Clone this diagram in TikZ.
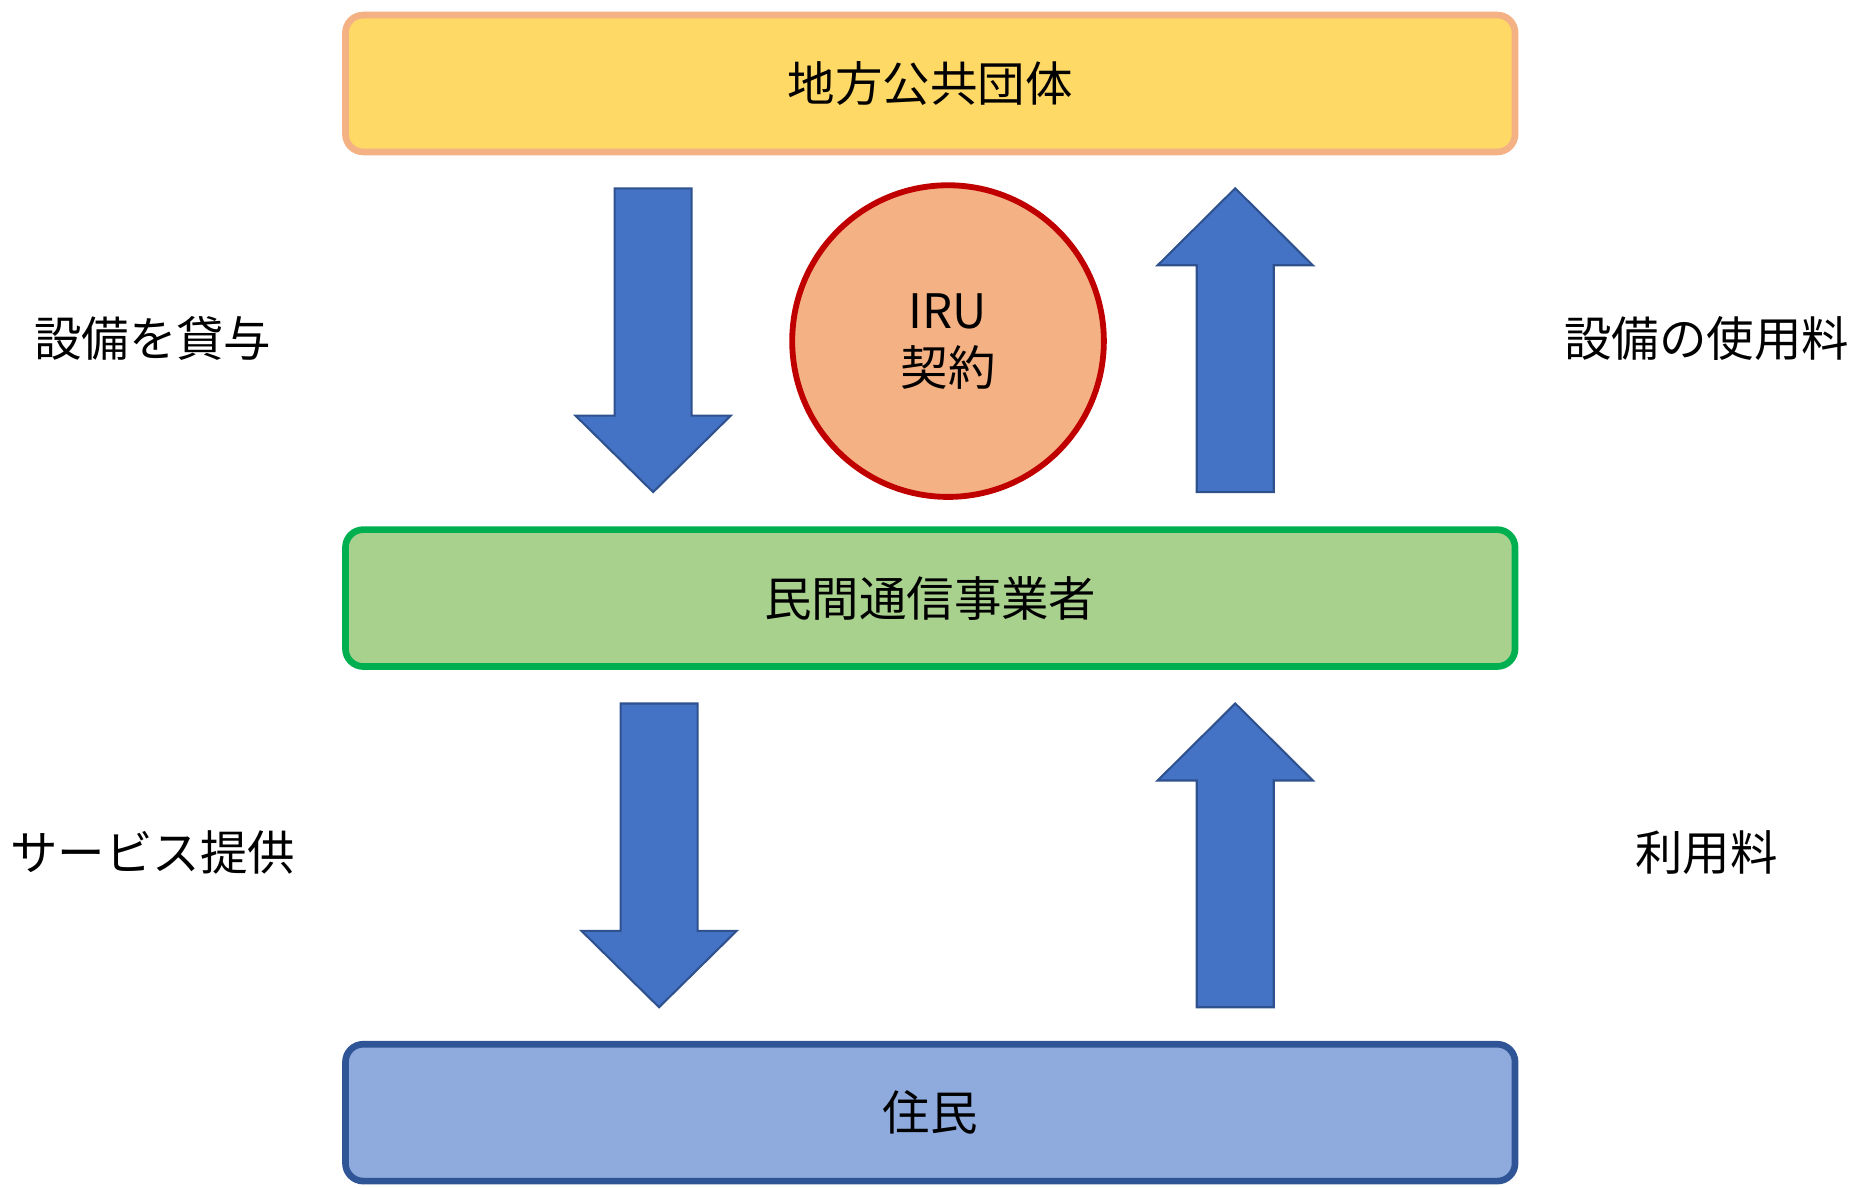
\documentclass[tikz,border=0pt]{standalone}
\usepackage{fontspec}
\setmainfont{Noto Sans CJK JP}
\usetikzlibrary{calc}
\definecolor{govfill}{HTML}{FFD966}
\definecolor{govline}{HTML}{F4B183}
\definecolor{irufill}{HTML}{F4B183}
\definecolor{iruline}{HTML}{C00000}
\definecolor{telfill}{HTML}{A9D18E}
\definecolor{telline}{HTML}{00B050}
\definecolor{resfill}{HTML}{8FAADC}
\definecolor{resline}{HTML}{2F5597}
\definecolor{arrfill}{HTML}{4472C4}
\definecolor{arrline}{HTML}{2F528F}
\def\downblock(#1,#2,#3,#4){\draw[flowarrow] ({#1-32.5},#2) -- ({#1+32.5},#2) -- ({#1+32.5},#3) -- ({#1+65.5},#3) -- (#1,#4) -- ({#1-65.5},#3) -- ({#1-32.5},#3) -- cycle;}
\def\upblock(#1,#2,#3,#4){\draw[flowarrow] (#1,#2) -- ({#1+65.5},#3) -- ({#1+32.5},#3) -- ({#1+32.5},#4) -- ({#1-32.5},#4) -- ({#1-32.5},#3) -- ({#1-65.5},#3) -- cycle;}

\begin{document}
\begin{tikzpicture}[x=0.01cm, y=-0.01cm,
    every node/.style={font=\fontsize{11.4}{13.7}\selectfont},
    bigbox/.style={rounded corners=0.15cm, line width=1.6pt, minimum width=9.87cm, minimum height=1.155cm},
    flowarrow/.style={fill=arrfill, draw=arrline, line width=0.5pt, line join=miter}]
    %%%%% START %%%%%
    \useasboundingbox (0,0) rectangle (1568,1003);

    \node[bigbox, fill=govfill, draw=govline] (gov) at (785.5,70.5) {地方公共団体};
    \node[bigbox, fill=telfill, draw=telline] (tel) at (785.5,505) {民間通信事業者};
    \node[bigbox, fill=resfill, draw=resline] (res) at (785.5,939.5) {住民};

    \node[circle, fill=irufill, draw=iruline, line width=1.4pt, minimum size=2.63cm, align=center, inner sep=0pt] (iru) at (800.5,288) {IRU\\契約};

    % arrows
    \downblock(551.5,159,351,415.5)
    \upblock(1043,159,224,415.5)
    \downblock(556.5,594,786,850.5)
    \upblock(1043,594,659,850.5)

    % labels
    \node (lend) at (129,286) {設備を貸与};
    \node (fee) at (1441,286) {設備の使用料};
    \node (serv) at (129,720) {サービス提供};
    \node (usage) at (1441,720) {利用料};
    %%%%% END %%%%%
\end{tikzpicture}
\end{document}
